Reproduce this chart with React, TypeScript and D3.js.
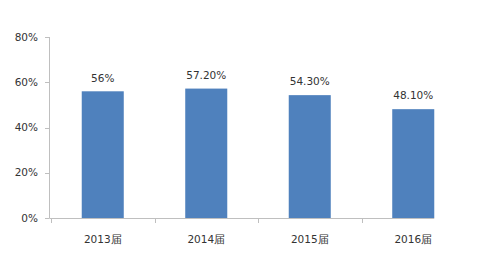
import React from "react";
import * as d3 from "d3";

const categories = ["2013届", "2014届", "2015届", "2016届"];
const values = [56, 57.2, 54.3, 48.1];
const valueLabels = ["56%", "57.20%", "54.30%", "48.10%"];
const yTicks = [0, 20, 40, 60, 80];

export default function App() {
  const W = 481, H = 263;
  const x0 = 51, x1 = 465;
  const yBottom = 218, yTop = 37;
  const x = d3.scaleBand<string>().domain(categories).range([x0, x1]).paddingInner(0.594).paddingOuter(0.297);
  const y = d3.scaleLinear().domain([0, 80]).range([yBottom, yTop]);
  const step = x.step();
  const lastRight = (x(categories[categories.length - 1]) as number) + x.bandwidth();
  const font = "'DejaVu Sans', sans-serif";
  const axisColor = "#bfbfbf";
  return (
    <svg width={W} height={H} style={{ position: "absolute", left: 0, top: 0, background: "#fff" }} fontFamily={font}>
      {/* y axis */}
      <line x1={49.5} x2={49.5} y1={yTop} y2={yBottom} stroke={axisColor} strokeWidth={1} />
      {yTicks.map((t) => (
        <g key={t}>
          <line x1={45} x2={49.5} y1={Math.round(y(t)) + 0.5} y2={Math.round(y(t)) + 0.5} stroke={axisColor} />
          <text x={38} y={y(t)} dy="0.35em" textAnchor="end" fontSize={10.5} fill="#333">{t}%</text>
        </g>
      ))}
      {/* bars */}
      {categories.map((c, i) => (
        <rect key={c} x={x(c)} y={y(values[i])} width={x.bandwidth()} height={yBottom - y(values[i])} fill="#4F81BD" />
      ))}
      {/* x axis */}
      <line x1={49.5} x2={lastRight} y1={yBottom + 0.5} y2={yBottom + 0.5} stroke={axisColor} />
      {categories.map((c, i) => {
        const bx = Math.round(x0 + i * step) + 0.5;
        return <line key={"t" + c} x1={bx} x2={bx} y1={yBottom} y2={yBottom + 5} stroke={axisColor} />;
      })}
      {categories.map((c) => (
        <text key={"l" + c} x={(x(c) as number) + x.bandwidth() / 2} y={243} textAnchor="middle" fontSize={10.5} fill="#333">{c}</text>
      ))}
      {categories.map((c, i) => (
        <text key={"v" + c} x={(x(c) as number) + x.bandwidth() / 2} y={y(values[i]) - 9.8} textAnchor="middle" fontSize={10.5} fill="#333">{valueLabels[i]}</text>
      ))}
    </svg>
  );
}
